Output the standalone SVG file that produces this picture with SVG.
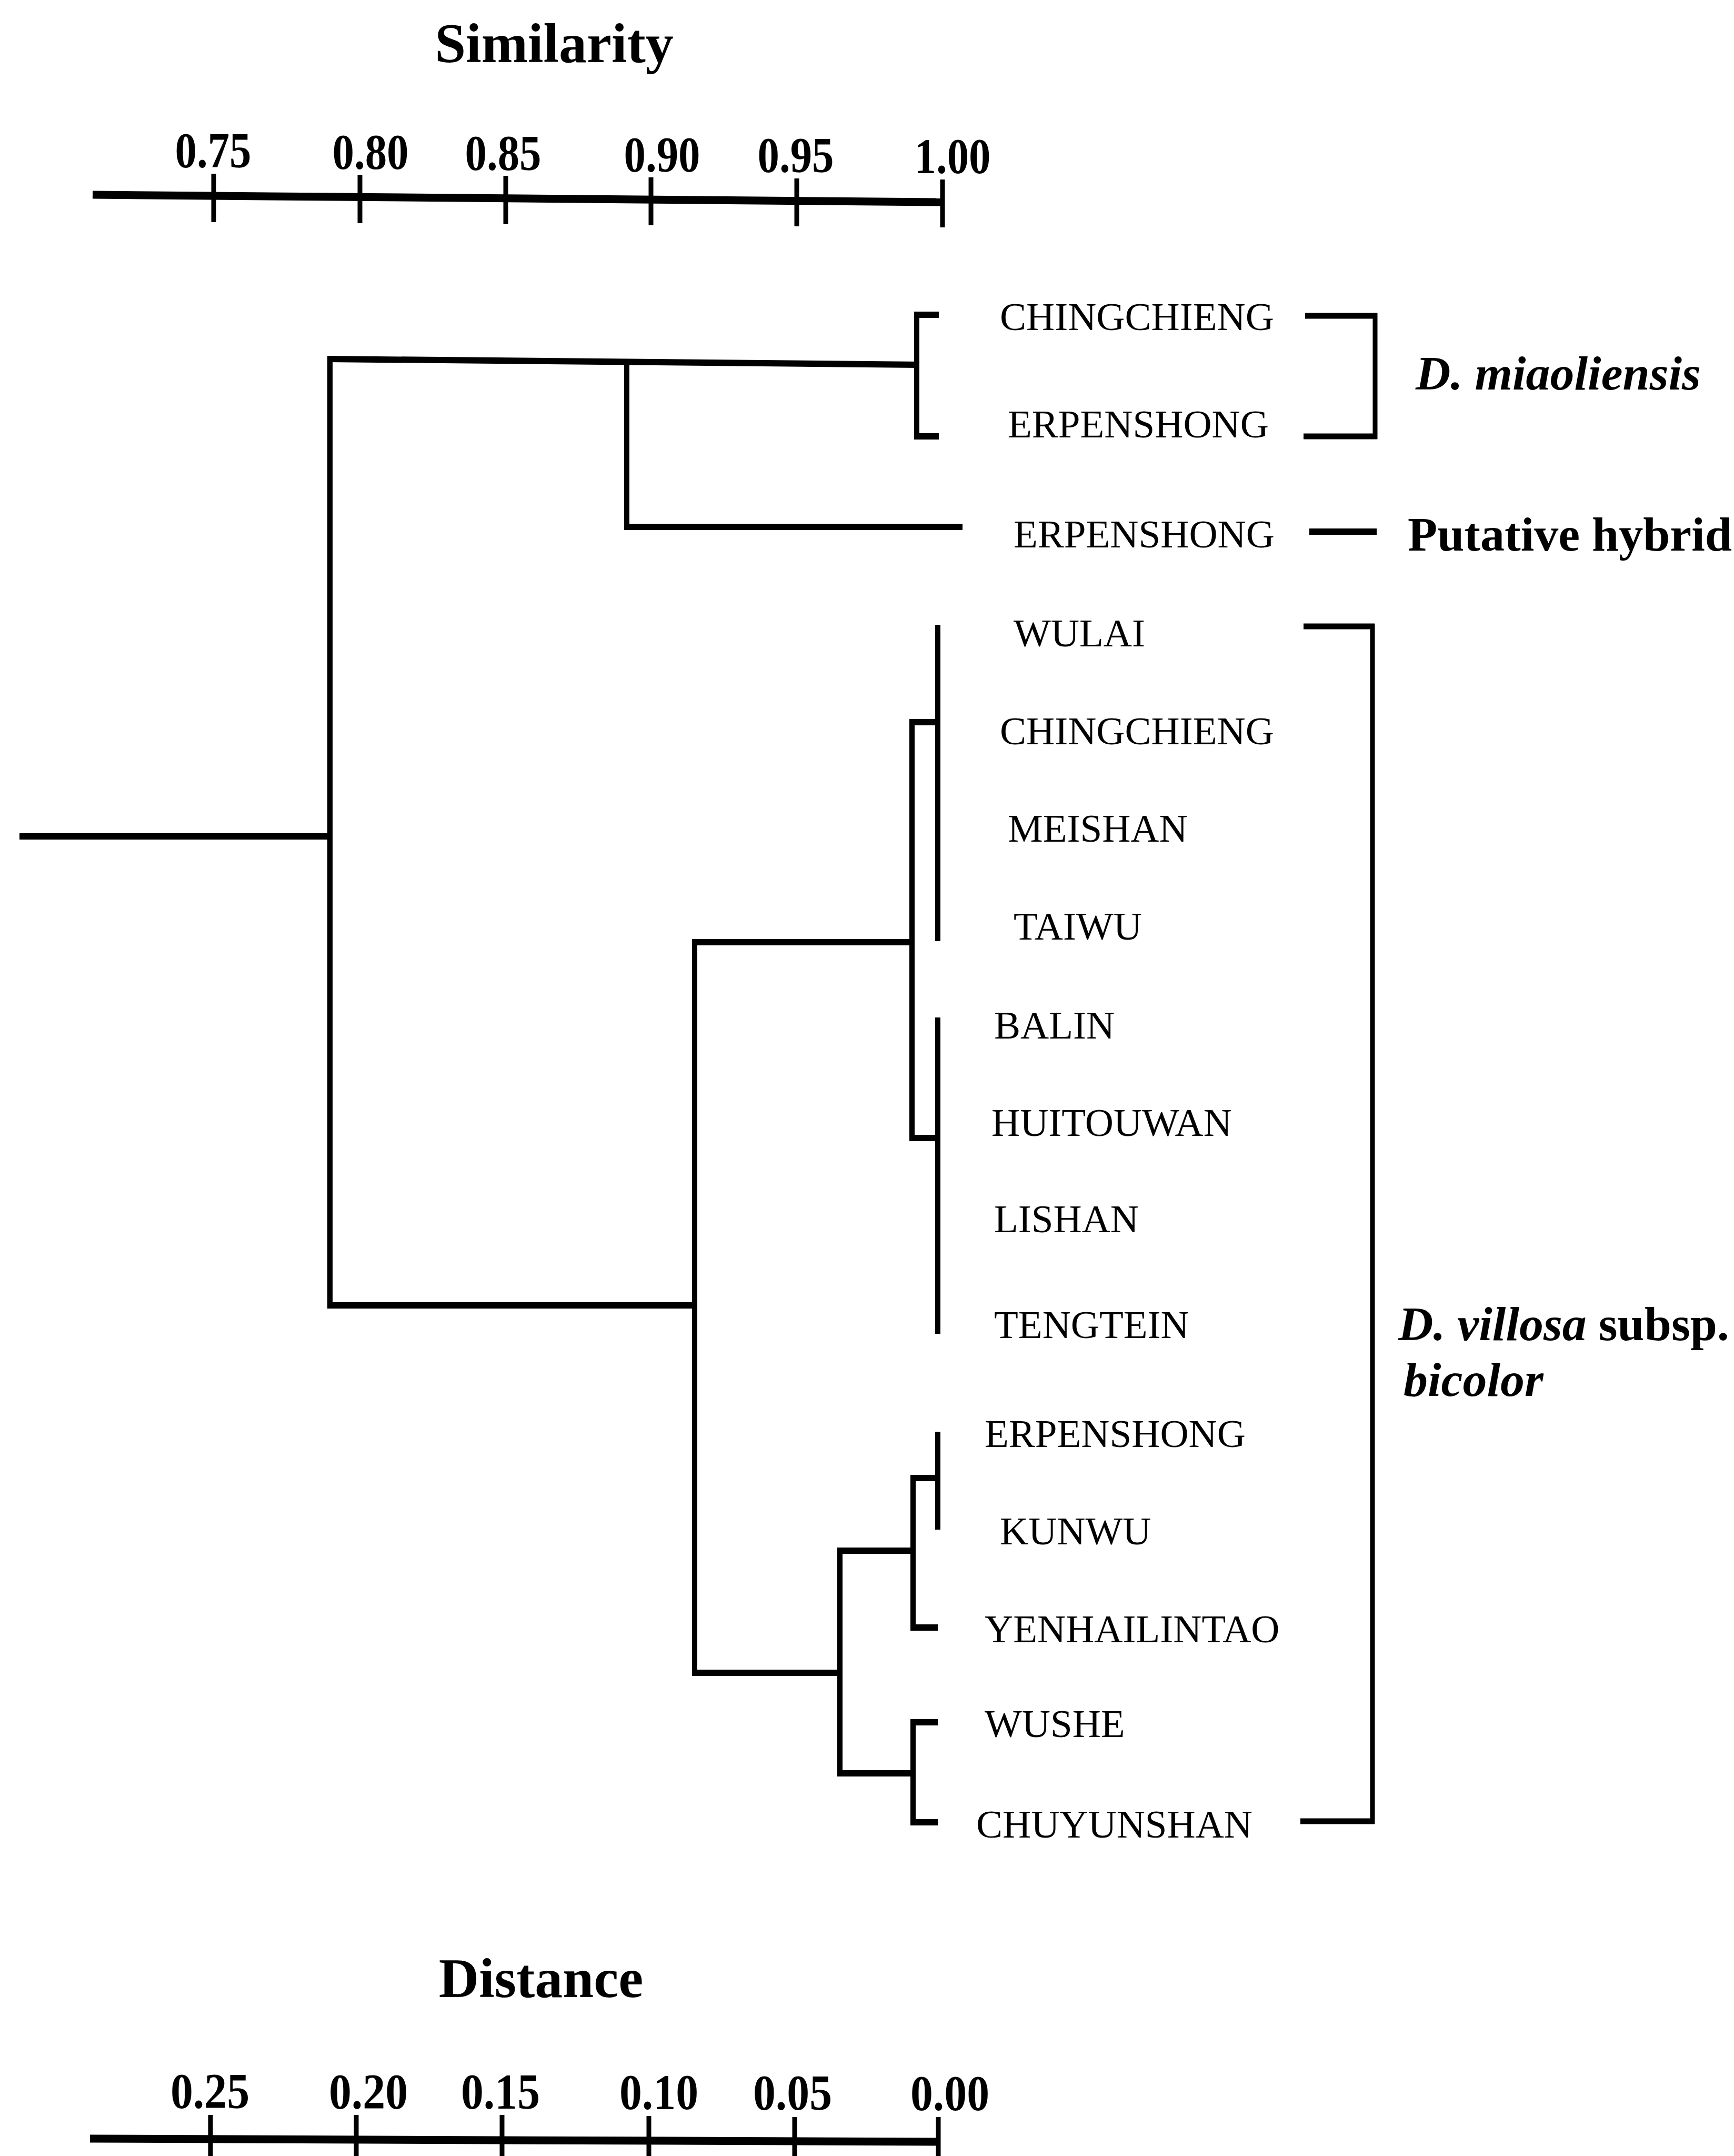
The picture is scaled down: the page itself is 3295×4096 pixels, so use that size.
<svg xmlns="http://www.w3.org/2000/svg" width="3295" height="4096" viewBox="0 0 3295 4096">
<style>
.ax{stroke:#000;stroke-width:15;fill:none}
.tk{stroke:#000;stroke-width:9;fill:none}
.h{stroke:#000;stroke-width:12;fill:none}
.v{stroke:#000;stroke-width:10;fill:none}
.title{font-family:"Liberation Serif",serif;font-weight:bold;font-size:106px;text-anchor:middle}
.num{font-family:"Liberation Serif",serif;font-weight:bold;font-size:95px;text-anchor:middle}
.lab{font-family:"Liberation Serif",serif;font-size:75px}
.grp{font-family:"Liberation Serif",serif;font-weight:bold;font-size:92px}
</style>
<rect width="3295" height="4096" fill="#fff"/>
<g id="axis-similarity">
<text class="title" x="1053" y="118">Similarity</text>
<line class="ax" x1="176" y1="370" x2="1791" y2="384"/>
<line class="tk" x1="406" y1="330" x2="406" y2="422"/>
<line class="tk" x1="684" y1="332" x2="684" y2="424"/>
<line class="tk" x1="961" y1="334" x2="961" y2="426"/>
<line class="tk" x1="1237" y1="337" x2="1237" y2="428"/>
<line class="tk" x1="1514" y1="339" x2="1514" y2="430"/>
<line class="tk" x1="1791" y1="341" x2="1791" y2="432"/>
<text class="num" x="405" y="318" textLength="145" lengthAdjust="spacingAndGlyphs">0.75</text>
<text class="num" x="704" y="321" textLength="145" lengthAdjust="spacingAndGlyphs">0.80</text>
<text class="num" x="956" y="323" textLength="145" lengthAdjust="spacingAndGlyphs">0.85</text>
<text class="num" x="1258" y="326" textLength="145" lengthAdjust="spacingAndGlyphs">0.90</text>
<text class="num" x="1512" y="327" textLength="145" lengthAdjust="spacingAndGlyphs">0.95</text>
<text class="num" x="1810" y="329" textLength="145" lengthAdjust="spacingAndGlyphs">1.00</text>
</g>
<g id="connectors">
<line class="h" x1="37" y1="1589" x2="627" y2="1589"/>
<line class="v" x1="627" y1="682" x2="627" y2="2480"/>
<line class="h" x1="622" y1="682" x2="1747" y2="693"/>
<line class="v" x1="1191" y1="688" x2="1191" y2="1001"/>
<line class="h" x1="1186" y1="1001" x2="1829" y2="1001"/>
<line class="v" x1="1742" y1="598" x2="1742" y2="829"/>
<line class="h" x1="1737" y1="598" x2="1784" y2="598"/>
<line class="h" x1="1737" y1="829" x2="1784" y2="829"/>
<line class="h" x1="622" y1="2480" x2="1325" y2="2480"/>
<line class="v" x1="1320" y1="1790" x2="1320" y2="3178"/>
<line class="h" x1="1315" y1="1790" x2="1738" y2="1790"/>
<line class="v" x1="1733" y1="1372" x2="1733" y2="2162"/>
<line class="h" x1="1728" y1="1372" x2="1782" y2="1372"/>
<line class="h" x1="1728" y1="2162" x2="1782" y2="2162"/>
<line class="v" x1="1782" y1="1187" x2="1782" y2="1788"/>
<line class="v" x1="1782" y1="1933" x2="1782" y2="2534"/>
<line class="h" x1="1315" y1="3178" x2="1601" y2="3178"/>
<line class="v" x1="1596" y1="2946" x2="1596" y2="3369"/>
<line class="h" x1="1591" y1="2946" x2="1740" y2="2946"/>
<line class="h" x1="1591" y1="3369" x2="1740" y2="3369"/>
<line class="v" x1="1735" y1="2808" x2="1735" y2="3092"/>
<line class="h" x1="1730" y1="2808" x2="1782" y2="2808"/>
<line class="h" x1="1730" y1="3092" x2="1782" y2="3092"/>
<line class="v" x1="1782" y1="2720" x2="1782" y2="2906"/>
<line class="v" x1="1735" y1="3272" x2="1735" y2="3462"/>
<line class="h" x1="1730" y1="3272" x2="1782" y2="3272"/>
<line class="h" x1="1730" y1="3462" x2="1782" y2="3462"/>
</g>
<g id="leaf-chingchieng-1"><text class="lab" x="1900" y="627">CHINGCHIENG</text></g>
<g id="leaf-erpenshong-1"><text class="lab" x="1915" y="831">ERPENSHONG</text></g>
<g id="leaf-erpenshong-hybrid"><text class="lab" x="1926" y="1040">ERPENSHONG</text></g>
<g id="leaf-wulai"><text class="lab" x="1926" y="1228">WULAI</text></g>
<g id="leaf-chingchieng-2"><text class="lab" x="1900" y="1414">CHINGCHIENG</text></g>
<g id="leaf-meishan"><text class="lab" x="1915" y="1599">MEISHAN</text></g>
<g id="leaf-taiwu"><text class="lab" x="1926" y="1785">TAIWU</text></g>
<g id="leaf-balin"><text class="lab" x="1889" y="1973">BALIN</text></g>
<g id="leaf-huitouwan"><text class="lab" x="1884" y="2158">HUITOUWAN</text></g>
<g id="leaf-lishan"><text class="lab" x="1889" y="2341">LISHAN</text></g>
<g id="leaf-tengtein"><text class="lab" x="1889" y="2542">TENGTEIN</text></g>
<g id="leaf-erpenshong-2"><text class="lab" x="1871" y="2749">ERPENSHONG</text></g>
<g id="leaf-kunwu"><text class="lab" x="1900" y="2934">KUNWU</text></g>
<g id="leaf-yenhailintao"><text class="lab" x="1871" y="3120">YENHAILINTAO</text></g>
<g id="leaf-wushe"><text class="lab" x="1871" y="3300">WUSHE</text></g>
<g id="leaf-chuyunshan"><text class="lab" x="1855" y="3491">CHUYUNSHAN</text></g>
<g id="group-miaoliensis">
<line class="v" x1="2613" y1="595" x2="2613" y2="834" style="stroke-width:9"/>
<line class="h" x1="2480" y1="600" x2="2617" y2="600" style="stroke-width:11"/>
<line class="h" x1="2477" y1="829" x2="2617" y2="829" style="stroke-width:11"/>
<text class="grp" x="2690" y="740" font-style="italic">D. miaoliensis</text>
</g>
<g id="group-hybrid">
<line class="h" x1="2488" y1="1010" x2="2616" y2="1010"/>
<text class="grp" x="2675" y="1046">Putative hybrid</text>
</g>
<g id="group-villosa">
<line class="v" x1="2608" y1="1185" x2="2608" y2="3465" style="stroke-width:9"/>
<line class="h" x1="2477" y1="1190" x2="2612" y2="1190" style="stroke-width:11"/>
<line class="h" x1="2471" y1="3460" x2="2612" y2="3460" style="stroke-width:11"/>
<text class="grp" x="2657" y="2546"><tspan font-style="italic">D. villosa</tspan> subsp.</text>
<text class="grp" x="2667" y="2652" font-style="italic">bicolor</text>
</g>
<g id="axis-distance">
<text class="title" x="1028" y="3794">Distance</text>
<line class="ax" x1="171" y1="4063" x2="1783" y2="4069"/>
<line class="tk" x1="400" y1="4018" x2="400" y2="4096"/>
<line class="tk" x1="677" y1="4018" x2="677" y2="4096"/>
<line class="tk" x1="954" y1="4018" x2="954" y2="4096"/>
<line class="tk" x1="1233" y1="4020" x2="1233" y2="4096"/>
<line class="tk" x1="1510" y1="4022" x2="1510" y2="4096"/>
<line class="tk" x1="1783" y1="4022" x2="1783" y2="4096"/>
<text class="num" x="399" y="4005" textLength="150" lengthAdjust="spacingAndGlyphs">0.25</text>
<text class="num" x="700" y="4006" textLength="150" lengthAdjust="spacingAndGlyphs">0.20</text>
<text class="num" x="951" y="4006" textLength="150" lengthAdjust="spacingAndGlyphs">0.15</text>
<text class="num" x="1252" y="4007" textLength="150" lengthAdjust="spacingAndGlyphs">0.10</text>
<text class="num" x="1506" y="4008" textLength="150" lengthAdjust="spacingAndGlyphs">0.05</text>
<text class="num" x="1805" y="4009" textLength="150" lengthAdjust="spacingAndGlyphs">0.00</text>
</g>
</svg>
